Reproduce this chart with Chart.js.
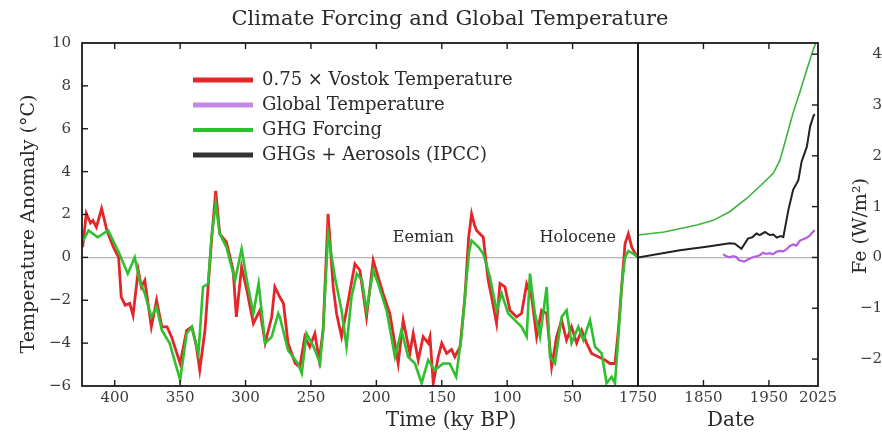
<!DOCTYPE html>
<html><head><meta charset="utf-8">
<script src="https://cdn.jsdelivr.net/npm/chart.js@4/dist/chart.umd.min.js"></script>
<style>
html,body{margin:0;padding:0;background:#fff;}
#wrap{position:relative;width:882px;height:435px;background:#fff;}
#wrap canvas{position:absolute;left:0;top:0;}
</style></head><body>
<div id="wrap"><canvas id="left" width="882" height="435"></canvas><canvas id="right" width="882" height="435"></canvas></div>
<script>
// ---- data ----
const vostokKy = [424.5,421.7,418.5,416.6,414,410,406,401,397,395,392,388.5,386,382,379.6,377,372,368,364,360,356.6,350,345,341,337.5,335,331,328.6,326,322.8,319.7,314.6,309.5,307,303,299,294,289,285,280,277.6,273.8,271,267.5,262,258.5,254.7,250.9,247,243.7,240.7,236.9,233,230.4,226.6,222.8,216.4,212.6,207.5,202.4,198.6,194.8,189.7,183.3,179.5,174.4,171.8,168,164.2,160.4,159,156.5,152.7,150,146.3,142.5,140,136,132.3,129.5,127.2,125,123.4,118.3,114.5,111.9,108.1,105.5,101.7,97.9,92.8,89,85.1,81.3,77.5,73.7,69.8,66,62.2,58.4,54.6,50.8,46.9,43.1,39.3,35.5,30.4,25.3,21.5,17.6,15,12.5,9.9,7.4,4.8,2.3,0];
const vostokTemp = [0.48,2.05,1.6,1.72,1.41,2.28,1.26,0.48,0.0,-1.85,-2.23,-2.15,-2.7,-0.6,-1.38,-1.07,-3.24,-2.0,-3.24,-3.24,-3.7,-4.95,-3.4,-3.24,-4.17,-5.26,-3.4,-1.38,0.79,3.1,1.1,0.71,-0.6,-2.78,-0.45,-1.53,-3.08,-2.47,-4.0,-2.78,-1.38,-1.85,-2.15,-4.0,-4.95,-5.1,-3.7,-4.17,-3.55,-4.79,-3.4,2.03,-1.38,-2.62,-3.7,-2.47,-0.3,-0.6,-2.78,-0.14,-0.92,-1.69,-2.62,-4.95,-2.93,-4.48,-3.55,-4.79,-3.7,-4.0,-3.7,-5.87,-4.64,-4.0,-4.48,-4.3,-4.64,-4.17,-1.85,0.9,2.03,1.5,1.26,0.94,-1.07,-1.85,-3.08,-1.22,-1.38,-2.47,-2.78,-2.62,-1.23,-1.85,-3.7,-2.47,-2.62,-5.1,-3.7,-2.93,-3.86,-3.24,-4.0,-3.4,-4.0,-4.48,-4.64,-4.79,-4.95,-4.95,-3.4,-1.38,0.64,1.1,0.48,0.2,0];
const ghgKy = [424,420,413,405,397,390,384.7,381,377,372,368,364,358,350,345,341,336,332.5,328.6,326,322.8,319.7,314.6,308,303,299,294,290,285,280,275,273.8,267.5,260,257,253.4,248,243,240.7,236.9,231.7,226.6,222.8,219,215,211,207.5,202.4,198.6,192.2,185.8,180.8,175.7,170.5,165.4,160.4,155.3,149,144,139,135,131,129,127.2,122,118.3,113.2,108.1,104.2,99.2,94.1,89,85.1,82.6,78.8,74.9,69.8,67.3,63.5,58.4,54.6,50.8,45.6,41.8,36.7,32.9,27.8,24,20.2,17.6,15,12.5,9.9,7.4,3.5,0];
const ghgTemp = [0.79,1.26,0.94,1.26,0.25,-0.76,0.0,-1.07,-1.69,-2.78,-2.3,-3.4,-4.0,-5.72,-3.55,-3.24,-4.48,-1.38,-1.23,0.94,2.5,1.1,0.48,-1.07,0.4,-1.07,-2.62,-1.22,-4.0,-3.7,-2.62,-2.78,-4.33,-4.95,-5.41,-3.55,-4.17,-4.95,-3.4,1.1,-0.92,-2.47,-4.17,-1.85,-0.76,-1.07,-2.47,-0.6,-1.23,-2.47,-4.64,-3.4,-4.64,-4.95,-5.87,-4.79,-5.26,-4.95,-4.95,-5.57,-3.7,-0.92,0.3,0.79,0.48,0.17,-0.92,-2.47,-1.69,-2.62,-2.93,-3.24,-3.7,-0.76,-2.62,-3.7,-1.38,-4.64,-4.95,-2.78,-2.47,-4.0,-3.24,-3.86,-2.93,-4.17,-4.48,-5.87,-5.57,-5.87,-3.7,-1.38,0.0,0.3,0.17,0];
const forcingYears = [1750,1790,1815,1840,1865,1890,1916,1941,1957,1967,1977,1987,1997,2008,2018,2022];
const ghgForcing = [0.44,0.5,0.57,0.64,0.73,0.9,1.16,1.46,1.66,1.92,2.38,2.85,3.24,3.70,4.1,4.23];
const aerosolYears = [1750,1814,1860,1890,1898,1908,1918,1925,1931,1936,1944,1951,1957,1962,1968,1972,1980,1987,1995,2000,2008,2013,2018,2020];
const aerosolForcing = [0.0,0.14,0.22,0.28,0.27,0.17,0.37,0.4,0.47,0.44,0.5,0.44,0.45,0.39,0.42,0.4,0.95,1.33,1.52,1.89,2.18,2.58,2.78,2.82];
const globalYears = [1880,1885,1890,1895,1900,1904,1908,1912,1918,1925,1931,1936,1941,1946,1951,1956,1961,1966,1972,1977,1982,1987,1992,1997,2002,2007,2012,2016,2020];
const globalTemp = [0.15,0.05,0.0,0.06,0.02,-0.12,-0.16,-0.2,-0.1,0.0,0.05,0.1,0.22,0.16,0.2,0.14,0.25,0.3,0.28,0.38,0.53,0.6,0.55,0.77,0.85,0.9,1.0,1.15,1.27];
const kyTicks = [400,350,300,250,200,150,100,50];
const dateTicks = [1750,1850,1950,2025];
const tempTicks = [-6,-4,-2,0,2,4,6,8,10];
const feTicks = [-2,-1,0,1,2,3,4];
const seriesNames = ['0.75 \u00d7 Vostok Temperature','Global Temperature','GHG Forcing','GHGs + Aerosols (IPCC)'];
const chartTitle = 'Climate Forcing and Global Temperature';
const annotations = [{text:'Eemian', ky:164, t:0.92},{text:'Holocene', ky:46, t:0.92}];

// ---- helpers ----
const SERIF = "'DejaVu Serif', 'Liberation Serif', serif";
Chart.defaults.font.family = SERIF;
Chart.defaults.font.size = 15;
Chart.defaults.color = '#3a3a3a';
const fmt = v => (v < 0 ? '\u2212' + Math.abs(v) : String(v));
const pts = (xs, ys) => xs.map((x, i) => ({x, y: ys[i]}));
const zeroGrid = {color: c => (c.tick && c.tick.value === 0 ? '#b4b4b4' : 'rgba(0,0,0,0)'), drawTicks: false, lineWidth: 1.2};

const frame = {
  id: 'frame',
  afterDatasetsDraw(chart) {
    const {ctx, chartArea: a} = chart;
    const seg = (x1, y1, x2, y2) => { ctx.beginPath(); ctx.moveTo(x1, y1); ctx.lineTo(x2, y2); ctx.stroke(); };
    ctx.save();
    ctx.strokeStyle = '#1a1a1a';
    ctx.lineWidth = 1.8;
    ctx.strokeRect(a.left, a.top, a.right - a.left, a.bottom - a.top);
    ctx.lineWidth = 1.4;
    const L = 6;
    const xs = chart.scales.x;
    xs.ticks.forEach(t => {
      const p = xs.getPixelForValue(t.value);
      if (p <= a.left + 1 || p >= a.right - 1) return;
      seg(p, a.bottom, p, a.bottom - L); seg(p, a.top, p, a.top + L);
    });
    const ys = chart.scales.y;
    ys.ticks.forEach(t => {
      const p = ys.getPixelForValue(t.value);
      if (p <= a.top + 1 || p >= a.bottom - 1) return;
      if (ys.position === 'left') seg(a.left, p, a.left + L, p); else seg(a.right, p, a.right - L, p);
    });
    ctx.restore();
  }
};

function drawText(ctx, txt, x, y, size, opts = {}) {
  ctx.save();
  ctx.font = size + 'px ' + SERIF;
  ctx.fillStyle = opts.color || '#2a2a2a';
  ctx.textAlign = opts.align || 'center';
  ctx.textBaseline = 'middle';
  ctx.translate(x, y);
  if (opts.rot) ctx.rotate(opts.rot);
  ctx.fillText(txt, 0, 0);
  ctx.restore();
}

const leftTexts = {
  id: 'leftTexts',
  afterDraw(chart) {
    const {ctx, scales} = chart;
    drawText(ctx, chartTitle, 450, 20, 21);
    drawText(ctx, 'Time (ky BP)', 451, 421, 20);
    drawText(ctx, 'Temperature Anomaly (\u00b0C)', 29, 224, 19, {rot: -Math.PI / 2});
    annotations.forEach(a => drawText(ctx, a.text, scales.x.getPixelForValue(a.ky), scales.y.getPixelForValue(a.t), 16));
    const legend = [
      {label: seriesNames[0], color: '#e3262a', w: 5},
      {label: seriesNames[1], color: '#c687ea', w: 5},
      {label: seriesNames[2], color: '#2fbf2f', w: 4},
      {label: seriesNames[3], color: '#333333', w: 5}
    ];
    legend.forEach((it, i) => {
      const y = 80 + i * 25;
      ctx.save();
      ctx.strokeStyle = it.color; ctx.lineWidth = it.w; ctx.lineCap = 'butt';
      ctx.beginPath(); ctx.moveTo(193, y); ctx.lineTo(253, y); ctx.stroke();
      ctx.restore();
      drawText(ctx, it.label, 262, y, 18, {align: 'left'});
    });
  }
};

const rightTexts = {
  id: 'rightTexts',
  afterDraw(chart) {
    const {ctx} = chart;
    drawText(ctx, 'Date', 731, 421, 20);
    drawText(ctx, 'Fe (W/m\u00b2)', 861, 226, 19, {rot: -Math.PI / 2});
  }
};

const tickFont = {size: 15};

new Chart(document.getElementById('left'), {
  type: 'line',
  data: {datasets: [
    {label: seriesNames[0], data: pts(vostokKy, vostokTemp), borderColor: '#e3262a', borderWidth: 2.8, pointRadius: 0, order: 2},
    {label: seriesNames[2], data: pts(ghgKy, ghgTemp), borderColor: '#2fbf2f', borderWidth: 2.6, pointRadius: 0, order: 1}
  ]},
  options: {
    responsive: false, animation: false, devicePixelRatio: 1,
    layout: {padding: {left: 0, right: 244, top: 43, bottom: 0}},
    plugins: {legend: {display: false}, tooltip: {enabled: false}, title: {display: false}},
    scales: {
      x: {type: 'linear', reverse: true, min: 0, max: 425,
        afterBuildTicks: s => { s.ticks = kyTicks.map(v => ({value: v})); },
        afterFit: s => { s.height = 49; },
        grid: {display: false, drawTicks: false}, border: {display: false},
        ticks: {font: tickFont, padding: 3, maxRotation: 0, autoSkip: false, callback: v => String(v)}},
      y: {type: 'linear', min: -6, max: 10,
        afterBuildTicks: s => { s.ticks = tempTicks.map(v => ({value: v})); },
        afterFit: s => { s.width = 82; },
        grid: zeroGrid, border: {display: false},
        ticks: {font: tickFont, padding: 11, callback: v => fmt(v)}}
    }
  },
  plugins: [frame, leftTexts]
});

new Chart(document.getElementById('right'), {
  type: 'line',
  data: {datasets: [
    {label: seriesNames[1], data: pts(globalYears, globalTemp), yAxisID: 'yT', borderColor: '#b45de6', borderWidth: 2.2, pointRadius: 0},
    {label: seriesNames[3], data: pts(aerosolYears, aerosolForcing), yAxisID: 'y', borderColor: '#222222', borderWidth: 2, pointRadius: 0},
    {label: seriesNames[2], data: pts(forcingYears, ghgForcing), yAxisID: 'y', borderColor: '#3cb43c', borderWidth: 1.6, pointRadius: 0}
  ]},
  options: {
    responsive: false, animation: false, devicePixelRatio: 1,
    layout: {padding: {left: 638, right: 0, top: 43, bottom: 0}},
    plugins: {legend: {display: false}, tooltip: {enabled: false}, title: {display: false}},
    scales: {
      x: {type: 'linear', min: 1750, max: 2025,
        afterBuildTicks: s => { s.ticks = dateTicks.map(v => ({value: v})); },
        afterFit: s => { s.height = 49; },
        grid: {display: false, drawTicks: false}, border: {display: false},
        ticks: {font: tickFont, padding: 3, maxRotation: 0, autoSkip: false, callback: v => String(v)}},
      y: {type: 'linear', position: 'right', min: -2.53, max: 4.22,
        afterBuildTicks: s => { s.ticks = feTicks.map(v => ({value: v})); },
        afterFit: s => { s.width = 64; },
        grid: zeroGrid, border: {display: false},
        ticks: {font: tickFont, padding: 2, crossAlign: 'far', callback: v => fmt(v)}},
      yT: {type: 'linear', display: false, min: -6, max: 10}
    }
  },
  plugins: [frame, rightTexts]
});
</script>
</body></html>
